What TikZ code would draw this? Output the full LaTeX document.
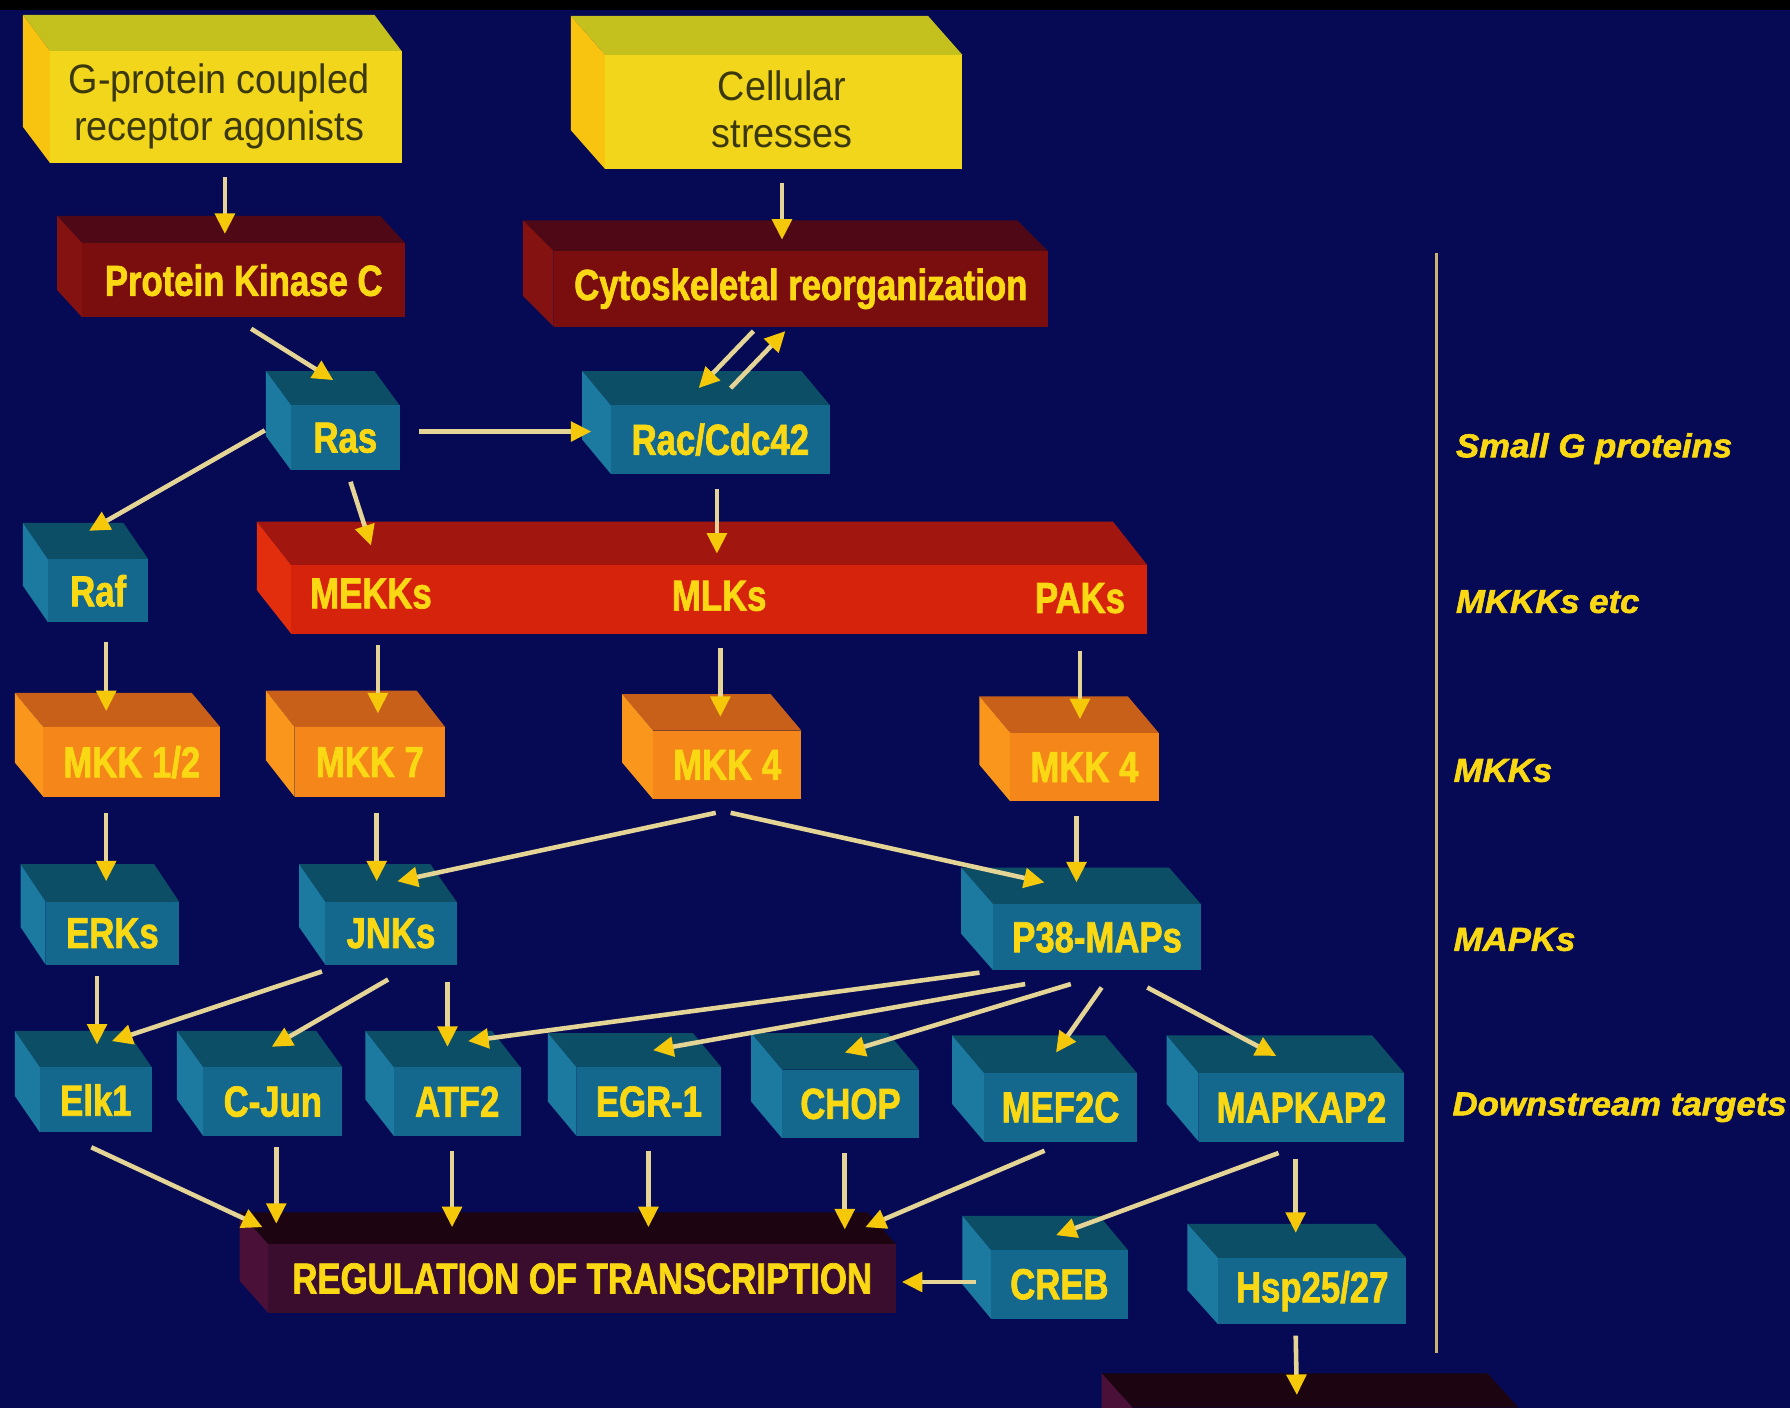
\documentclass[tikz,border=0pt]{standalone}
\usepackage{fontspec}
\setmainfont{Liberation Sans}
\newfontfamily\bxf[FakeStretch=0.8,FakeBold=1.6]{Liberation Sans}
\newfontfamily\ylf[FakeStretch=0.92]{Liberation Sans}
\newfontfamily\sdf[FakeStretch=1.05,FakeBold=1.8]{Liberation Sans}
\usetikzlibrary{arrows.meta,calc}
\definecolor{bg}{RGB}{6,10,84}
\definecolor{yelF}{RGB}{242,214,28}
\definecolor{yelT}{RGB}{196,192,30}
\definecolor{yelL}{RGB}{248,196,16}
\definecolor{drF}{RGB}{122,14,14}
\definecolor{drT}{RGB}{78,8,22}
\definecolor{drL}{RGB}{132,18,16}
\definecolor{tlF}{RGB}{20,104,142}
\definecolor{tlT}{RGB}{12,78,102}
\definecolor{tlL}{RGB}{28,122,160}
\definecolor{rdF}{RGB}{214,36,12}
\definecolor{rdT}{RGB}{162,22,16}
\definecolor{rdL}{RGB}{226,46,12}
\definecolor{orF}{RGB}{244,134,26}
\definecolor{orT}{RGB}{200,96,26}
\definecolor{orL}{RGB}{250,150,28}
\definecolor{mrF}{RGB}{58,12,46}
\definecolor{mrT}{RGB}{28,5,16}
\definecolor{mrL}{RGB}{74,16,56}
\definecolor{txtY}{RGB}{250,216,20}
\definecolor{txtD}{RGB}{60,56,14}
\definecolor{arrline}{RGB}{228,212,150}
\definecolor{arrhead}{RGB}{246,200,10}
\definecolor{sidecol}{RGB}{200,180,112}
\newcommand\cube[9]{%
 \fill[#8T] ({#2-#6},{#3-#7}) -- ({#4-#6},{#3-#7}) -- (#4,#3) -- (#2,#3) -- cycle;
 \fill[#8L] ({#2-#6},{#3-#7}) -- (#2,#3) -- (#2,#5) -- ({#2-#6},{#5-#7}) -- cycle;
 \node[box, fill=#8F, minimum width={(#4-#2)*0.5pt}, minimum height={(#5-#3)*0.5pt}] (#1) at ({(#2+#4)/2},{(#3+#5)/2}) {#9};
}
\begin{document}
\begin{tikzpicture}[x=0.5pt,y=-0.5pt,
  box/.style={inner sep=0pt, outer sep=0pt, text=txtY, font=\bxf\bfseries\fontsize{19}{22}\selectfont},
  ybox/.style={text=txtD, align=center, font=\ylf\fontsize{18}{20.5}\selectfont},
  lbl/.style={text=txtY, inner sep=0pt, font=\bxf\bfseries\fontsize{19}{22}\selectfont},
  side/.style={anchor=west, text=txtY, inner sep=0pt, font=\sdf\bfseries\itshape\fontsize{14.5}{18}\selectfont},
  arr/.style={draw=arrline, line width=2pt, -{Triangle[length=9pt,width=8.5pt,color=arrhead]}},
  sideline/.style={draw=sidecol, line width=1.4pt}]
\clip (0,0) rectangle (1568,1233);
\fill[bg] (0,0) rectangle (1568,1233);
\fill[black] (0,0) rectangle (1568,9);
% boxes
\cube{gpcr}{44}{45}{352}{143}{24}{32}{yel}{}
\node[ybox] (gpcrt) at (192,93) {G-protein coupled\\receptor agonists};
\cube{stress}{530}{48}{843}{148}{30}{34}{yel}{}
\node[ybox] (stresst) at (685,96) {Cellular\\stresses};
\cube{pkc}{72}{213}{355}{278}{22}{24}{dr}{Protein Kinase C}
\cube{cyto}{485}{220}{918}{286}{27}{27}{dr}{Cytoskeletal reorganization}
\cube{ras}{255}{355}{350}{412}{22}{30}{tl}{Ras}
\cube{rac}{535}{355}{727}{415}{25}{30}{tl}{Rac/Cdc42}
\cube{raf}{42}{490}{130}{545}{22}{32}{tl}{Raf}
\cube{mekk}{255}{495}{1005}{555}{30}{38}{rd}{}
\node[lbl] (mekks) at (325,520) {MEKKs};
\node[lbl] (mlks) at (630,522) {MLKs};
\node[lbl] (paks) at (946,524) {PAKs};
\cube{mkka}{38}{637}{193}{698}{25}{30}{or}{MKK 1/2}
\cube{mkkb}{258}{637}{390}{698}{25}{32}{or}{MKK 7}
\cube{mkkc}{572}{640}{702}{700}{27}{32}{or}{MKK 4}
\cube{mkkd}{885}{642}{1015}{702}{27}{32}{or}{MKK 4}
\cube{erks}{40}{790}{157}{845}{22}{33}{tl}{ERKs}
\cube{jnks}{285}{790}{400}{845}{23}{33}{tl}{JNKs}
\cube{p38}{870}{792}{1052}{850}{28}{32}{tl}{P38-MAPs}
\cube{elk}{35}{935}{133}{992}{22}{32}{tl}{Elk1}
\cube{cjun}{178}{935}{300}{995}{23}{32}{tl}{C-Jun}
\cube{atf}{345}{935}{456}{995}{25}{32}{tl}{ATF2}
\cube{egr}{505}{935}{632}{995}{25}{30}{tl}{EGR-1}
\cube{chop}{685}{937}{805}{997}{27}{32}{tl}{CHOP}
\cube{mef}{862}{940}{996}{1000}{28}{33}{tl}{MEF2C}
\cube{mapk}{1050}{940}{1230}{1000}{28}{33}{tl}{MAPKAP2}
\cube{reg}{235}{1090}{785}{1150}{25}{28}{mr}{REGULATION OF TRANSCRIPTION}
\cube{creb}{868}{1095}{988}{1155}{25}{30}{tl}{CREB}
\cube{hsp}{1067}{1102}{1232}{1160}{27}{30}{tl}{Hsp25/27}
\cube{bot}{992}{1233}{1330}{1300}{27}{30}{mr}{}
% side scale
\coordinate (stop) at (1258,222);
\coordinate (sbot) at (1258,1185);
\draw[sideline] (stop) -- (sbot);
\node[side] (l1) at (1275,393) {Small G proteins};
\node[side] (l2) at (1275,527) {MKKKs etc};
\node[side] (l3) at (1273,675) {MKKs};
\node[side] (l4) at (1273,823) {MAPKs};
\node[side] (l5) at (1272,970) {Downstream targets};
% arrows
\draw[arr] ($(gpcr.south)+(-1,12)$) -- ($(pkc.north)+(-16.5,-8)$);
\draw[arr] ($(stress.south)+(-1.5,12)$) -- ($(cyto.north)+(-16.5,-10)$);
\draw[arr] ($(pkc.south)+(6.5,10)$) -- ($(ras.north)+(-10.5,-22)$);
\draw[arr] ($(cyto.south)+(-41.5,4)$) -- ($(rac.north)+(-19,-15)$);
\draw[arr] ($(rac.north)+(9,-15)$) -- ($(cyto.south)+(-13.5,4)$);
\draw[arr] ($(ras.east)+(17,-5.5)$) -- ($(rac.west)+(-17,-7)$);
\draw[arr] ($(ras.west)+(-23,-6.5)$) -- ($(raf.north)+(-8,-25)$);
\draw[arr] ($(ras.south)+(4.5,10)$) -- ($(mekk.north west)+(70,-17)$);
\draw[arr] ($(rac.south)+(-3,13)$) -- ($(mekk.north)+(-2,-10)$);
\draw[arr] ($(raf.south)+(7,17)$) -- ($(mkka.north)+(-22.5,-14)$);
\draw[arr] ($(mekk.south west)+(76,10)$) -- ($(mkkb.north)+(7,-12)$);
\draw[arr] ($(mekk.south)+(1,13)$) -- ($(mkkc.north)+(-6,-12)$);
\draw[arr] ($(mekk.south east)+(-59,15)$) -- ($(mkkd.north)+(-4,-12)$);
\draw[arr] ($(mkka.south)+(-22.5,14)$) -- ($(erks.north)+(-5.5,-18)$);
\draw[arr] ($(mkkb.south)+(6,14)$) -- ($(jnks.north)+(-12.5,-18)$);
\draw[arr] ($(mkkc.south)+(-10,12)$) -- ($(jnks.north)+(5.5,-18)$);
\draw[arr] ($(mkkc.south)+(3,12)$) -- ($(p38.north)+(-46,-19)$);
\draw[arr] ($(mkkd.south)+(-7,13)$) -- ($(p38.north)+(-18,-19)$);
\draw[arr] ($(erks.south)+(-13.5,10)$) -- ($(elk.north)+(1,-20)$);
\draw[arr] ($(jnks.south)+(-60.5,6)$) -- ($(elk.north)+(14,-23)$);
\draw[arr] ($(jnks.south)+(-2.5,13)$) -- ($(cjun.north)+(-1,-18)$);
\draw[arr] ($(jnks.south)+(49.5,15)$) -- ($(atf.north)+(-8.5,-18)$);
\draw[arr] ($(p38.south)+(-103,2)$) -- ($(atf.north)+(9.5,-23)$);
\draw[arr] ($(p38.south)+(-63,12)$) -- ($(egr.north)+(3.5,-15)$);
\draw[arr] ($(p38.south)+(-23,12)$) -- ($(chop.north)+(-5,-15)$);
\draw[arr] ($(p38.south)+(4,15)$) -- ($(mef.north)+(-4,-18)$);
\draw[arr] ($(p38.south)+(44,15)$) -- ($(mapk.north)+(-22,-15)$);
\draw[arr] ($(elk.south)+(-4,13)$) -- ($(reg.north west)+(-5,-15)$);
\draw[arr] ($(cjun.south)+(3,10)$) -- ($(reg.north west)+(7,-18)$);
\draw[arr] ($(atf.south)+(-4.5,13)$) -- ($(reg.north west)+(161,-15)$);
\draw[arr] ($(egr.south)+(-0.5,13)$) -- ($(reg.north west)+(333,-15)$);
\draw[arr] ($(chop.south)+(-5,13)$) -- ($(reg.north west)+(505,-13)$);
\draw[arr] ($(mef.south)+(-14,8)$) -- ($(reg.north west)+(523,-15)$);
\draw[arr] ($(mapk.south)+(-20,10)$) -- ($(creb.north)+(-3,-13)$);
\draw[arr] ($(mapk.south)+(-5,15)$) -- ($(hsp.north)+(-14.5,-22)$);
\draw[arr] ($(creb.west)+(-13,-2)$) -- ($(reg.east)+(5,3)$);
\draw[arr] ($(hsp.south)+(-14.5,10)$) -- ($(bot.north)+(-25,-11)$);
\end{tikzpicture}
\end{document}
